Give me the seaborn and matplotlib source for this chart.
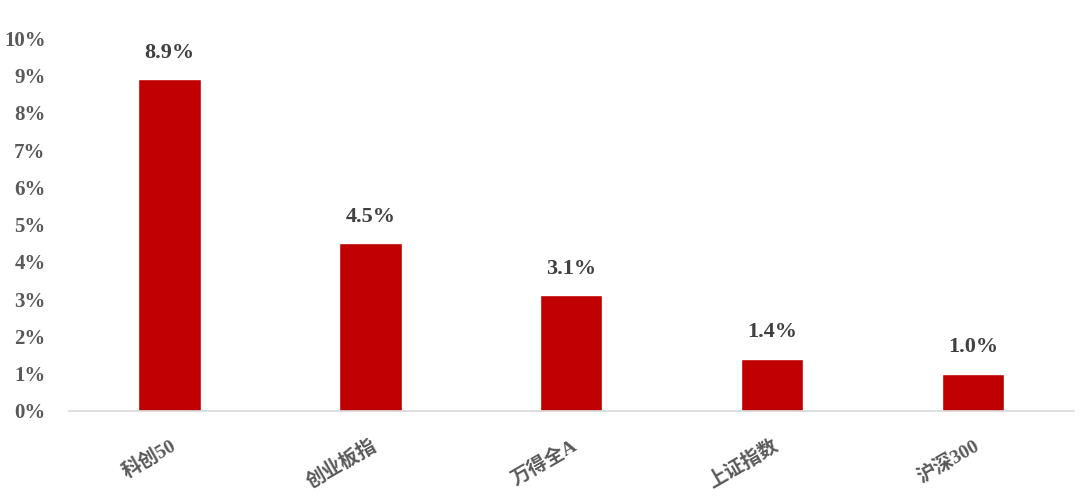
import numpy as np
import pandas as pd
import matplotlib
matplotlib.use("Agg")
import matplotlib.pyplot as plt
import seaborn as sns

categories = ["科创50", "创业板指", "万得全A", "上证指数", "沪深300"]
returns = [8.9, 4.5, 3.1, 1.4, 1.0]
y_ticks = list(range(0, 11))
y_tick_labels = [f"{t}%" for t in y_ticks]

sns.set_style("white")
plt.rcParams['font.family'] = ['Liberation Serif', 'Noto Sans CJK SC', 'DejaVu Sans']
plt.rcParams['font.weight'] = 'bold'

df = pd.DataFrame({"index": categories, "ret": returns})

fig = plt.figure(figsize=(10.8, 5.03), dpi=100)
ax = fig.add_axes([0.064, 0.183, 0.930, 0.741])

sns.barplot(data=df, x="index", y="ret", color="#C00000", width=0.31,
            saturation=1, ax=ax)

ax.set_ylim(0, 10)
ax.set_xlim(-0.5, len(categories) - 0.5)
ax.set_yticks(y_ticks)
ax.set_yticklabels(y_tick_labels, fontsize=15, color="#595959", fontweight="bold")
ax.set_xticks(range(len(categories)))
ax.set_xticklabels(categories, fontsize=14, color="#595959", fontweight="bold",
                   rotation=30, ha="right", rotation_mode="anchor")
ax.tick_params(axis="both", length=0)
ax.tick_params(axis="y", pad=17)
ax.tick_params(axis="x", pad=18)
ax.set_xlabel("")
ax.set_ylabel("")

for s in ["top", "right", "left"]:
    ax.spines[s].set_visible(False)
ax.spines["bottom"].set_color("#D9D9D9")
ax.spines["bottom"].set_linewidth(1.2)

for i, v in enumerate(returns):
    ax.annotate(f"{v:.1f}%", (i, v), xytext=(0, 12), textcoords="offset points",
                ha="center", va="bottom", fontsize=16, fontweight="bold",
                color="#404040")

fig.savefig("out.png", dpi=100)
